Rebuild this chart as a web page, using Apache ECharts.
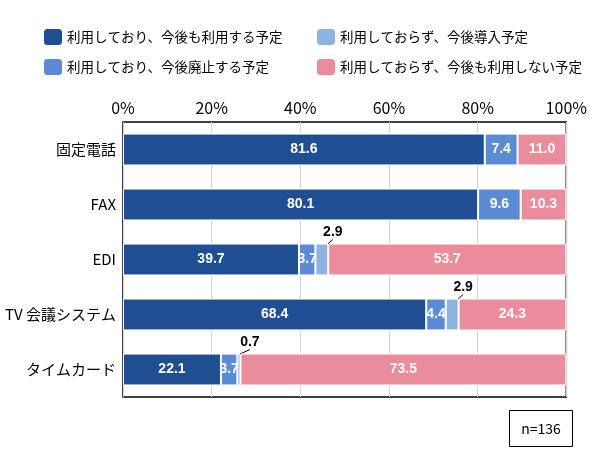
<!DOCTYPE html>
<html><head><meta charset="utf-8">
<script src="https://cdn.jsdelivr.net/npm/echarts@6/dist/echarts.min.js"></script>
<style>html,body{margin:0;padding:0;background:#fff}#c{width:590px;height:465px}</style>
</head><body><div id="c"></div>
<script>
const categories = ['固定電話','FAX','EDI','TV 会議システム','タイムカード'];
const seriesNames = ['利用しており、今後も利用する予定','利用しており、今後廃止する予定','利用しておらず、今後導入予定','利用しておらず、今後も利用しない予定'];
const continueUse = [81.6, 80.1, 39.7, 68.4, 22.1];
const abolish = [7.4, 9.6, 3.7, 4.4, 3.7];
const introduce = [0, 0, 2.9, 2.9, 0.7];
const neverUse = [11.0, 10.3, 53.7, 24.3, 73.5];
const xTicks = [0, 20, 40, 60, 80, 100];
const colors = ['#1F4E93','#5B8BD5','#8DB2E4','#EA8C9B'];

const jp = 'Noto Sans CJK JP';
const numFont = 'Liberation Sans';
const insideLabel = {show:true, position:'inside', color:'#fff', fontWeight:'bold', fontSize:14, fontFamily:numFont, formatter: p => p.value.toFixed(1)};

function mk(name, data, color, idx) {
  const s = {
    name, type:'bar', stack:'t', data: data.map(v => ({value:v})),
    itemStyle:{color, borderColor:'#fff', borderWidth:1},
    barCategoryGap:'42%',
    label: insideLabel,
    emphasis:{disabled:true}
  };
  if (idx === 2) {
    s.data = data.map(v => ({value:v, label:{show: v>0}}));
    s.label = {show:true, position:'inside', color:'#000', fontWeight:'bold', fontSize:14, fontFamily:numFont, formatter: p => p.value.toFixed(1)};
    s.labelLayout = {dx: 11, dy: -27};
    s.labelLine = {show:true, lineStyle:{color:'#000', width:1}, length2:0};
  }
  return s;
}

const legendBase = {itemWidth:20, itemHeight:18, icon:'roundRect', itemGap:5, padding:0, textStyle:{fontFamily:jp, fontSize:13.5, color:'#000', padding:[0,0,0,-1]}, selectedMode:false};
const chart = echarts.init(document.getElementById('c'));
chart.setOption({
  animation:false,
  color: colors,
  legend: [
    Object.assign({}, legendBase, {data:[seriesNames[0]], left:42, top:27}),
    Object.assign({}, legendBase, {data:[seriesNames[2]], left:315, top:27}),
    Object.assign({}, legendBase, {data:[seriesNames[1]], left:42, top:57}),
    Object.assign({}, legendBase, {data:[seriesNames[3]], left:315, top:57})
  ],
  grid:{left:123, right:20, top:122, bottom:68, show:true, borderColor:'#000', borderWidth:1.5, backgroundColor:'transparent'},
  xAxis:{type:'value', position:'top', min:xTicks[0], max:xTicks[xTicks.length-1], interval:20,
    axisLabel:{formatter:'{value}%', fontFamily:jp, fontSize:16, color:'#000', margin:6},
    axisLine:{show:false}, axisTick:{show:false},
    splitLine:{lineStyle:{color:'#d4d4d4', width:1}}},
  yAxis:{type:'category', data:categories, inverse:true,
    axisLabel:{fontFamily:jp, fontSize:15, color:'#000', margin:7},
    axisLine:{show:false}, axisTick:{show:false}},
  series:[
    mk(seriesNames[0], continueUse, colors[0], 0),
    mk(seriesNames[1], abolish, colors[1], 1),
    mk(seriesNames[2], introduce, colors[2], 2),
    mk(seriesNames[3], neverUse, colors[3], 3)
  ],
  graphic:[{
    type:'group', right:17, bottom:18,
    children:[
      {type:'rect', shape:{x:0,y:0,width:63,height:36}, style:{fill:'#fff', stroke:'#000', lineWidth:1}},
      {type:'text', x:31.5, y:18, style:{text:'n=136', font:'14px "Noto Sans CJK JP"', fill:'#000', align:'center', verticalAlign:'middle'}}
    ]
  }]
});
</script></body></html>
